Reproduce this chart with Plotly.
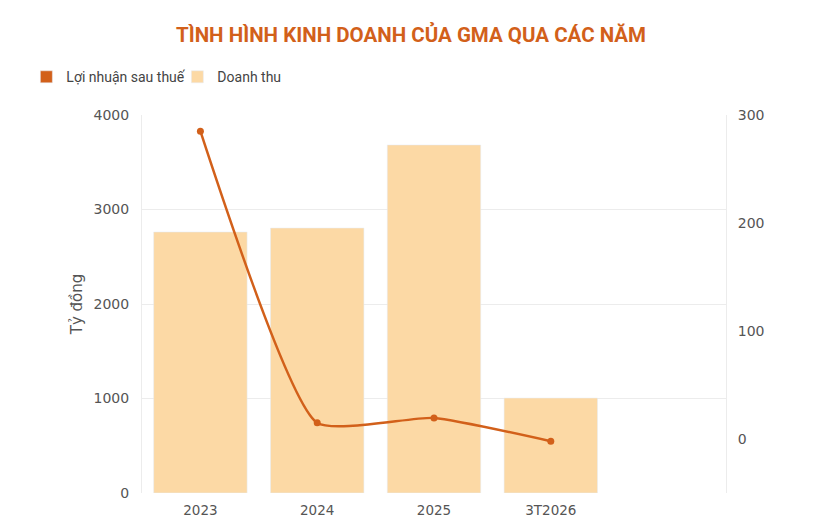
import plotly.graph_objects as go

categories = ["2023", "2024", "2025", "3T2026"]
revenue = [2762, 2804, 3683, 1005]
profit = [285, 15, 19.5, -2]

line_color = "#D2601A"
bar_color = "#FCD9A5"
title_color = "#D2601A"

fig = go.Figure()

fig.add_trace(go.Bar(
    x=categories, y=revenue, name="Doanh thu",
    marker=dict(color=bar_color), showlegend=False, yaxis="y",
))
fig.add_trace(go.Scatter(
    x=categories, y=profit, name="Lợi nhuận sau thuế",
    mode="lines+markers", line=dict(color=line_color, width=2.5, shape="spline", smoothing=0.5),
    marker=dict(size=7, color=line_color), showlegend=False, yaxis="y2",
))
# legend-only entries (swatches)
fig.add_trace(go.Bar(x=[None], y=[None], name="Lợi nhuận sau thuế",
                     marker=dict(color=line_color), yaxis="y", legendrank=1))
fig.add_trace(go.Bar(x=[None], y=[None], name="Doanh thu",
                     marker=dict(color=bar_color), yaxis="y", legendrank=2))

fig.update_layout(
    width=822, height=525,
    margin=dict(l=142, r=96, t=115, b=32),
    paper_bgcolor="white", plot_bgcolor="white",
    barmode="overlay", bargap=0.2,
    title=dict(text="<b>TÌNH HÌNH KINH DOANH CỦA GMA QUA CÁC NĂM</b>",
               x=0.5, xanchor="center", y=0.933, yanchor="middle",
               font=dict(family="Roboto", size=20.5, color=title_color)),
    legend=dict(orientation="h", x=-0.198, xanchor="left", y=1.10, yanchor="middle",
                font=dict(family="Roboto", size=14, color="#444"),
                itemwidth=30, traceorder="normal", tracegroupgap=0,
                entrywidth=106, entrywidthmode="pixels"),
    font=dict(family="DejaVu Sans", color="#555"),
    xaxis=dict(type="category", range=[-0.5, 4.5], showgrid=False, automargin=False,
               showline=False, ticks="", ticklabelstandoff=7,
               tickfont=dict(size=13.5, color="#555")),
    yaxis=dict(range=[0, 4000], tickvals=[0, 1000, 2000, 3000, 4000], automargin=False,
               showgrid=True, gridcolor="#ececec", zeroline=False,
               showline=True, linecolor="#ececec", ticks="", ticklabelstandoff=9,
               tickfont=dict(size=14, color="#555"),
               title=dict(text="Tỷ đồng", font=dict(size=15, color="#555"), standoff=7)),
    yaxis2=dict(range=[-50, 300], tickvals=[0, 100, 200, 300], overlaying="y", side="right",
                automargin=False,
                showgrid=False, zeroline=False, showline=True, linecolor="#ececec",
                ticks="", ticklabelstandoff=8, tickfont=dict(size=14, color="#555")),
)

fig.write_html("out.html")
